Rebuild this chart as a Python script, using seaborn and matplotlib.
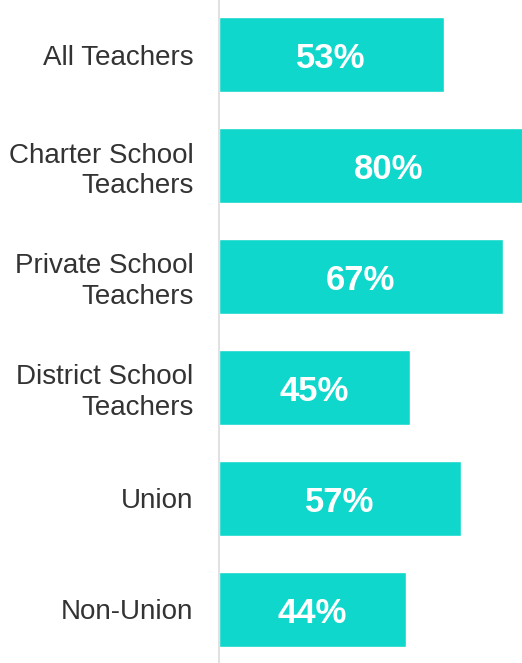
import matplotlib
matplotlib.use("Agg")
import matplotlib.pyplot as plt
import seaborn as sns
import pandas as pd

# Data
groups = [
    "All Teachers",
    "Charter School\nTeachers",
    "Private School\nTeachers",
    "District School\nTeachers",
    "Union",
    "Non-Union",
]
shares = [53, 80, 67, 45, 57, 44]

df = pd.DataFrame({"group": groups, "share": shares})

sns.set_style("white")
plt.rcParams["font.family"] = ["Liberation Sans", "DejaVu Sans"]

fig = plt.figure(figsize=(5.22, 6.63), dpi=100)
ax = fig.add_axes([218.5 / 522, 0, 303.5 / 522, 1])

sns.barplot(data=df, x="share", y="group", orient="h", color="#10D7CC",
            saturation=1, width=0.676, ax=ax)

# Value labels, centered on the full (unclipped) bar
for i, v in enumerate(shares):
    ax.text(v / 2, i + 0.12, f"{v}%", ha="center", va="baseline",
            color="white", fontsize=25, fontweight="bold", clip_on=False)

ax.set_xlim(0, 71.4)
ax.set_ylim(5.482, -0.491)
ax.set_xlabel("")
ax.set_ylabel("")
ax.set_xticks([])
ax.set_yticks(range(len(groups)))
ax.set_yticklabels(groups, fontsize=20, color="#333333", linespacing=1.22)
ax.tick_params(axis="y", length=0, pad=18)

for s in ["top", "right", "bottom"]:
    ax.spines[s].set_visible(False)
ax.spines["left"].set_color("#d9d9d9")
ax.spines["left"].set_linewidth(1.1)

fig.savefig("out.png", dpi=100)
